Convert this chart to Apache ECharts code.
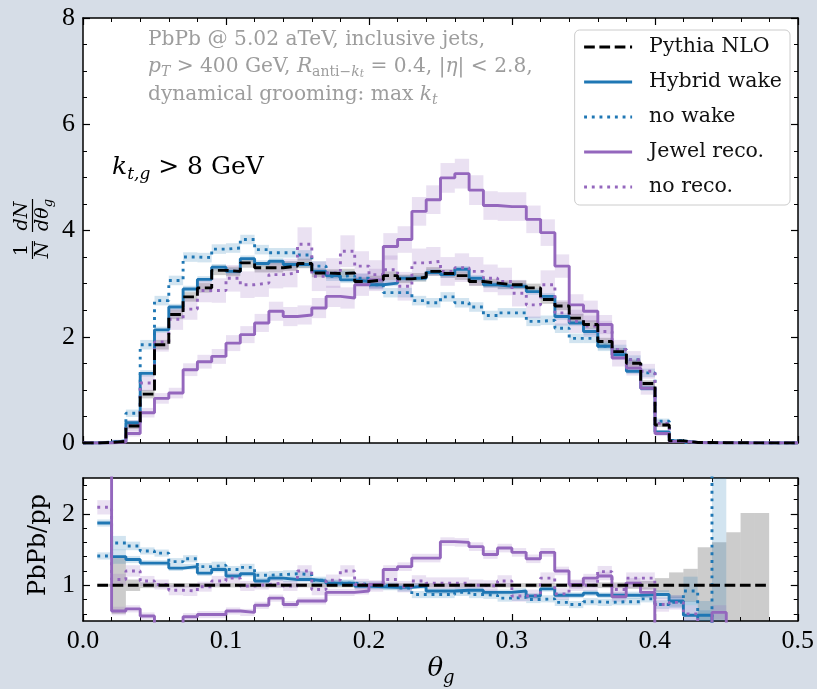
<!DOCTYPE html>
<html><head><meta charset="utf-8">
<script src="https://cdn.jsdelivr.net/npm/echarts@6/dist/echarts.min.js"></script>
<style>html,body{margin:0;padding:0;background:#d6dde7;}#c{width:817px;height:689px;}</style>
</head><body><div id="c"></div><script>
// ---------- data ----------
const binEdges = [0,0.01,0.02,0.03,0.04,0.05,0.06,0.07,0.08,0.09,0.10,0.11,0.12,0.13,0.14,0.15,0.16,0.17,0.18,0.19,0.20,
  0.21,0.22,0.23,0.24,0.25,0.26,0.27,0.28,0.29,0.30,0.31,0.32,0.33,0.34,0.35,0.36,0.37,0.38,0.39,0.40,
  0.41,0.42,0.43,0.44,0.45,0.46,0.47,0.48,0.49,0.50];
const seriesNames = ['Pythia NLO','Hybrid wake','no wake','Jewel reco.','no reco.'];
const xTickLabels = ['0.0','0.1','0.2','0.3','0.4','0.5'];
const yTickLabelsTop = ['0','2','4','6','8'];
const yTickLabelsRatio = [1,2];

// top panel: 1/N dN/dtheta_g per bin of 0.01
const pythiaNLO = [0,0.01,0.03,0.32,0.92,1.85,2.42,2.75,2.92,3.25, 3.23,3.39,3.30,3.30,3.33,3.38,3.20,3.19,3.20,3.04,
  3.07,3.15,3.09,3.12,3.23,3.19,3.15,3.04,3.01,2.98, 2.98,2.92,2.70,2.58,2.35,2.23,1.91,1.72,1.50,1.12,
  0.34,0.04,0.01,0.01,0.005,0.005,0.003,0.002,0,0];
const hybridWake = [0,0.01,0.03,0.38,1.31,2.13,2.56,2.90,3.08,3.31, 3.23,3.47,3.38,3.42,3.36,3.36,3.23,3.15,3.07,3.04,
  2.98,3.01,3.10,3.10,3.21,3.17,3.27,3.10,2.98,2.95, 2.95,2.85,2.76,2.38,2.26,2.10,1.82,1.66,1.35,1.03,
  0.21,0.04,0.01,0.005,0.003,0.003,0.002,0,0,0];
const hybridNoWake = [0,0.02,0.04,0.56,1.85,2.68,3.06,3.50,3.49,3.65, 3.67,3.83,3.64,3.58,3.58,3.54,3.33,3.14,3.15,3.10,
  2.98,2.83,2.83,2.68,2.64,2.75,2.64,2.56,2.40,2.45, 2.45,2.29,2.31,2.16,1.97,1.97,1.82,1.76,1.57,1.32,
  0.41,0.05,0.01,0.005,0.01,0.003,0.002,0,0,0];
const jewelReco = [0,0,0.02,0.18,0.57,0.84,0.94,1.38,1.53,1.63, 1.88,2.04,2.26,2.48,2.38,2.41,2.54,2.76,2.73,2.98,
  3.07,3.70,3.83,4.36,4.58,4.99,5.07,4.76,4.47,4.45, 4.45,4.21,3.96,3.33,2.60,2.48,2.23,1.60,1.41,1.03,
  0.18,0.03,0.01,0.005,0.003,0.002,0,0,0,0];
const jewelNoReco = [0,0.01,0.03,0.33,1.13,1.90,2.33,2.52,2.87,2.87, 3.10,2.98,3.01,3.17,3.20,3.74,3.14,3.20,3.61,3.33,
  3.17,3.26,2.95,3.39,3.42,3.23,3.30,3.23,3.10,3.04, 2.82,2.60,2.98,2.45,2.29,2.20,2.10,1.76,1.57,1.35,
  0.37,0.03,0.01,0.005,0.003,0.002,0,0,0,0];
// uncertainties (half widths) top
const pythiaErr = [0,0.01,0.02,0.06,0.08,0.09,0.09,0.09,0.09,0.09, 0.09,0.09,0.09,0.09,0.09,0.09,0.08,0.08,0.08,0.08,
  0.08,0.08,0.08,0.08,0.08,0.08,0.08,0.08,0.08,0.08, 0.08,0.08,0.08,0.08,0.08,0.08,0.07,0.07,0.07,0.06,
  0.04,0.02,0.01,0.01,0.01,0.01,0.01,0.01,0,0];
const hybridWakeErr = [0,0.01,0.02,0.05,0.06,0.06,0.06,0.06,0.06,0.06, 0.06,0.06,0.06,0.06,0.06,0.06,0.06,0.06,0.06,0.06,
  0.06,0.06,0.06,0.06,0.06,0.06,0.06,0.06,0.06,0.06, 0.06,0.06,0.06,0.06,0.06,0.06,0.06,0.06,0.05,0.05,
  0.03,0.01,0.01,0.01,0.01,0.01,0.01,0,0,0];
const hybridNoWakeErr = [0,0.01,0.02,0.07,0.09,0.09,0.09,0.09,0.09,0.09, 0.09,0.09,0.09,0.09,0.09,0.09,0.09,0.09,0.09,0.09,
  0.09,0.09,0.09,0.09,0.09,0.09,0.09,0.09,0.09,0.09, 0.09,0.09,0.09,0.09,0.09,0.09,0.09,0.09,0.08,0.08,
  0.05,0.02,0.01,0.01,0.01,0.01,0.01,0,0,0];
const jewelRecoErr = [0,0,0.02,0.06,0.09,0.1,0.1,0.12,0.13,0.14, 0.15,0.16,0.17,0.18,0.18,0.18,0.19,0.2,0.2,0.21,
  0.21,0.25,0.25,0.27,0.27,0.28,0.28,0.28,0.27,0.27, 0.27,0.26,0.25,0.22,0.2,0.2,0.18,0.16,0.14,0.12,
  0.05,0.02,0.01,0.01,0.01,0.01,0,0,0,0];
const jewelNoRecoErr = [0,0.01,0.03,0.1,0.15,0.18,0.2,0.2,0.22,0.23, 0.25,0.25,0.26,0.26,0.27,0.32,0.28,0.28,0.3,0.28,
  0.27,0.27,0.27,0.27,0.27,0.27,0.27,0.27,0.26,0.26, 0.25,0.25,0.27,0.24,0.22,0.2,0.2,0.18,0.16,0.14,
  0.06,0.02,0.01,0.01,0.01,0.01,0,0,0,0];

// bottom panel: PbPb/pp ratios (null = not drawn)
const ratioPythia = [null,1,1,1,1,1,1,1,1,1, 1,1,1,1,1,1,1,1,1,1, 1,1,1,1,1,1,1,1,1,1, 1,1,1,1,1,1,1,1,1,1,
  1,1,1,1,1,1,1,1,null,null];
const ratioPythiaErr = [null,0.02,0.4,0.08,0.04,0.03,0.03,0.03,0.03,0.03, 0.03,0.03,0.03,0.03,0.03,0.03,0.03,0.03,0.03,0.03,
  0.03,0.03,0.03,0.03,0.03,0.03,0.03,0.03,0.03,0.03, 0.03,0.03,0.03,0.03,0.03,0.03,0.04,0.04,0.05,0.06,
  0.1,0.18,0.23,0.53,0.6,0.74,1.01,1.01,null,null];
const ratioHybridWake = [null,1.87,1.40,1.36,1.31,1.31,1.24,1.26,1.17,1.22, 1.13,1.16,1.06,1.10,1.08,1.08,1.06,1.03,1.03,0.99,
  0.98,0.97,0.97,0.99,0.92,0.92,0.93,0.93,0.90,0.90, 0.92,0.85,0.95,0.86,0.86,0.89,0.86,0.86,0.86,0.87,
  0.87,0.78,0.58,0.58,0.3,null,null,null,null,null];
const ratioHybridWakeErr = [null,0.05,0.1,0.05,0.04,0.04,0.04,0.04,0.04,0.04, 0.04,0.04,0.04,0.04,0.04,0.04,0.04,0.04,0.04,0.04,
  0.04,0.04,0.04,0.04,0.04,0.04,0.04,0.04,0.04,0.04, 0.04,0.04,0.04,0.04,0.04,0.04,0.04,0.04,0.05,0.05,
  0.06,0.08,0.2,0.2,0.2,null,null,null,null,null];
const ratioHybridNoWake = [null,1.41,1.59,1.55,1.48,1.45,1.33,1.37,1.26,1.28, 1.22,1.25,1.14,1.15,1.16,1.15,1.07,1.03,1.03,1.01,
  1.00,0.99,0.96,0.87,0.87,0.87,0.90,0.87,0.86,0.82, 0.83,0.80,0.81,0.76,0.73,0.77,0.76,0.77,0.77,0.81,
  0.73,0.76,0.92,0.45,4.0,null,null,null,null,null];
const ratioHybridNoWakeErr = [null,0.05,0.1,0.06,0.05,0.05,0.05,0.05,0.05,0.05, 0.05,0.05,0.05,0.05,0.05,0.05,0.05,0.05,0.05,0.05,
  0.05,0.05,0.05,0.05,0.05,0.05,0.05,0.05,0.05,0.05, 0.05,0.05,0.05,0.05,0.05,0.05,0.05,0.05,0.05,0.05,
  0.06,0.08,0.2,0.2,3.5,null,null,null,null,null];
const ratioJewelReco = [null,3.5,0.64,0.67,0.57,0.45,0.45,0.56,0.59,0.59, 0.64,0.62,0.72,0.82,0.73,0.78,0.78,0.90,0.90,0.92,
  1.01,1.22,1.26,1.38,1.38,1.61,1.60,1.54,1.43,1.52, 1.46,1.37,1.46,1.20,1.01,1.10,1.13,0.84,1.03,0.90,
  0.3,0.3,0.3,0.3,0.62,0.3,null,null,null,null];
const ratioJewelRecoErr = [null,0.5,0.06,0.05,0.05,0.05,0.05,0.05,0.05,0.05, 0.05,0.05,0.05,0.05,0.05,0.05,0.05,0.05,0.05,0.05,
  0.05,0.06,0.06,0.06,0.06,0.06,0.06,0.06,0.06,0.06, 0.06,0.06,0.06,0.06,0.06,0.06,0.06,0.07,0.07,0.07,
  0.1,0.1,0.1,0.1,0.1,0.1,null,null,null,null];
const ratioJewelNoReco = [null,2.09,1.08,1.20,1.06,1.01,0.93,0.92,0.98,1.06, 1.10,0.99,1.01,1.03,0.99,1.20,0.94,1.07,1.20,1.01,
  0.99,1.08,0.98,1.06,1.03,1.03,1.03,1.00,0.99,1.06, 0.85,0.86,1.10,0.88,1.00,1.00,1.19,0.94,1.10,1.10,
  0.73,0.76,0.60,0.3,null,null,null,null,null,null];
const ratioJewelNoRecoErr = [null,0.1,0.08,0.08,0.07,0.07,0.07,0.07,0.07,0.07, 0.07,0.07,0.07,0.07,0.07,0.08,0.08,0.08,0.08,0.08,
  0.08,0.08,0.08,0.08,0.08,0.08,0.08,0.08,0.08,0.08, 0.08,0.08,0.08,0.08,0.08,0.08,0.08,0.08,0.08,0.08,
  0.1,0.1,0.12,0.12,null,null,null,null,null,null];

// ---------- styling ----------
const FONT = 'Liberation Serif';
const TFONT = 'DejaVu Serif';
const BLUE = '#1f77b4', PURPLE = '#9467bd', BLACK = '#000000';
const LW = 2.9;
const DASHED = [10.7, 4.6], DOTTED = [2.9, 4.8];
const GRAY_TXT = '#9d9d9d';

function stepData(vals) {
  const pts = [];
  for (let i = 0; i < vals.length; i++) {
    const v = vals[i];
    if (v == null) continue;
    pts.push([binEdges[i], v]);
    if (i === vals.length - 1 || vals[i + 1] == null) {
      pts.push([binEdges[i + 1], v]);
      pts.push([binEdges[i + 1], '-']);
    }
  }
  return pts;
}
function lineSeries(name, vals, color, type, xi, yi, z) {
  return { type: 'line', name, xAxisIndex: xi, yAxisIndex: yi, data: stepData(vals), step: 'end',
    symbol: 'none', showSymbol: false, clip: true, silent: true, z: z || 3, connectNulls: false,
    lineStyle: { color, width: LW, type, cap: 'butt' }, itemStyle: { color } };
}
function bandSeries(vals, errs, color, xi, yi) {
  const data = [];
  vals.forEach((v, i) => {
    if (v == null || errs[i] == null) return;
    data.push([binEdges[i], binEdges[i + 1], v - errs[i], v + errs[i]]);
  });
  return { type: 'custom', xAxisIndex: xi, yAxisIndex: yi, silent: true, clip: true, z: 1,
    encode: { x: [0, 1], y: [2, 3] }, data,
    renderItem(params, api) {
      const p0 = api.coord([api.value(0), api.value(3)]);
      const p1 = api.coord([api.value(1), api.value(2)]);
      const cs = params.coordSys;
      const r = echarts.graphic.clipRectByRect(
        { x: p0[0], y: p0[1], width: p1[0] - p0[0], height: p1[1] - p0[1] },
        { x: cs.x, y: cs.y, width: cs.width, height: cs.height });
      return r && { type: 'rect', shape: r, style: { fill: color } };
    } };
}
const BAND_GRAY = 'rgba(0,0,0,0.2)', BAND_BLUE = 'rgba(31,119,180,0.2)', BAND_PURPLE = 'rgba(148,103,189,0.2)';

function xAxisDef(gridIndex, position, labels) {
  return { type: 'value', gridIndex, position, min: 0, max: 0.5, interval: 0.1,
    axisLine: { show: true, onZero: false, lineStyle: { color: '#000', width: 1.5 } },
    axisTick: { show: true, inside: true, length: 7, lineStyle: { color: '#000', width: 1.2 } },
    minorTick: { show: true, splitNumber: 5, length: 4, lineStyle: { color: '#000', width: 1 } },
    splitLine: { show: false }, minorSplitLine: { show: false },
    axisLabel: { show: labels, formatter: v => xTickLabels[Math.round(v * 10)], fontFamily: FONT, fontSize: 26, color: '#000', margin: 7 } };
}
function yTopDef(position, labels) {
  return { type: 'value', gridIndex: 0, position, min: 0, max: 8, interval: 2,
    axisLine: { show: true, onZero: false, lineStyle: { color: '#000', width: 1.5 } },
    axisTick: { show: true, inside: true, length: 7, lineStyle: { color: '#000', width: 1.2 } },
    minorTick: { show: true, splitNumber: 4, length: 4, lineStyle: { color: '#000', width: 1 } },
    splitLine: { show: false }, minorSplitLine: { show: false },
    axisLabel: { show: labels, formatter: v => yTickLabelsTop[Math.round(v / 2)], fontFamily: FONT, fontSize: 26, color: '#000', margin: 8 } };
}
function yRatioDef(position, labels, major) {
  const vals = major ? yTickLabelsRatio : [0.6, 0.8, 1.2, 1.4, 1.6, 1.8, 2.2, 2.4];
  return { type: 'value', gridIndex: 1, position, min: 0.5, max: 2.5, offset: 0,
    axisLine: { show: major, onZero: false, lineStyle: { color: '#000', width: 1.5 } },
    axisTick: { show: true, inside: true, length: major ? 7 : 4, customValues: vals, lineStyle: { color: '#000', width: major ? 1.2 : 1 } },
    splitLine: { show: false },
    axisLabel: { show: labels, customValues: yTickLabelsRatio, fontFamily: FONT, fontSize: 26, color: '#000', margin: 8 } };
}

const series = [
  bandSeries(pythiaNLO, pythiaErr, BAND_GRAY, 0, 0),
  bandSeries(hybridWake, hybridWakeErr, BAND_BLUE, 0, 0),
  bandSeries(hybridNoWake, hybridNoWakeErr, BAND_BLUE, 0, 0),
  bandSeries(jewelReco, jewelRecoErr, BAND_PURPLE, 0, 0),
  bandSeries(jewelNoReco, jewelNoRecoErr, BAND_PURPLE, 0, 0),
  lineSeries(seriesNames[1], hybridWake, BLUE, 'solid', 0, 0, 3),
  lineSeries(seriesNames[2], hybridNoWake, BLUE, DOTTED, 0, 0, 3),
  lineSeries(seriesNames[3], jewelReco, PURPLE, 'solid', 0, 0, 3),
  lineSeries(seriesNames[4], jewelNoReco, PURPLE, DOTTED, 0, 0, 3),
  lineSeries(seriesNames[0], pythiaNLO, BLACK, DASHED, 0, 0, 4),
  bandSeries(ratioPythia, ratioPythiaErr, BAND_GRAY, 2, 2),
  bandSeries(ratioHybridWake, ratioHybridWakeErr, BAND_BLUE, 2, 2),
  bandSeries(ratioHybridNoWake, ratioHybridNoWakeErr, BAND_BLUE, 2, 2),
  bandSeries(ratioJewelReco, ratioJewelRecoErr, BAND_PURPLE, 2, 2),
  bandSeries(ratioJewelNoReco, ratioJewelNoRecoErr, BAND_PURPLE, 2, 2),
  lineSeries('r1', ratioHybridWake, BLUE, 'solid', 2, 2, 3),
  lineSeries('r2', ratioHybridNoWake, BLUE, DOTTED, 2, 2, 3),
  lineSeries('r3', ratioJewelReco, PURPLE, 'solid', 2, 2, 3),
  lineSeries('r4', ratioJewelNoReco, PURPLE, DOTTED, 2, 2, 3),
  lineSeries('r0', ratioPythia, BLACK, DASHED, 2, 2, 4)
];

const sub = (fs, col, ital, fam) => ({ fontFamily: fam || TFONT, fontSize: fs, fill: col, fontStyle: ital ? 'italic' : 'normal', verticalAlign: 'bottom' });
const main = (fs, col, ital, pad, fam) => ({ fontFamily: fam || TFONT, fontSize: fs, fill: col, fontStyle: ital ? 'italic' : 'normal', verticalAlign: 'bottom', padding: [0, 0, pad, 0] });

const AF = 20.2;
const annoRich = { r: main(AF, GRAY_TXT, false, 3), i: main(AF, GRAY_TXT, true, 3), s: sub(14, GRAY_TXT, false), si: sub(14, GRAY_TXT, true), ss: sub(10.5, GRAY_TXT, true) };

const graphics = [
  // y label top: 1/N dN/dtheta_g
  { type: 'group', x: 32.5, y: 231, rotation: Math.PI / 2, silent: true, children: [
    { type: 'text', x: -19, y: -1, style: { text: '1', font: '19px "DejaVu Serif"', fill: '#000', align: 'center', verticalAlign: 'bottom' } },
    { type: 'line', shape: { x1: -28, y1: 0, x2: -10, y2: 0 }, style: { stroke: '#000', lineWidth: 1.2 } },
    { type: 'text', x: -19, y: 1, style: { text: 'N', font: 'italic 19px "DejaVu Serif"', fill: '#000', align: 'center', verticalAlign: 'top' } },
    { type: 'text', x: 15, y: -1, style: { text: 'dN', font: 'italic 19px "DejaVu Serif"', fill: '#000', align: 'center', verticalAlign: 'bottom' } },
    { type: 'line', shape: { x1: -1, y1: 0, x2: 32, y2: 0 }, style: { stroke: '#000', lineWidth: 1.2 } },
    { type: 'text', x: 16, y: 1, style: { text: '{i|dθ}{s|g}', align: 'center', verticalAlign: 'top',
      rich: { i: main(19, '#000', true, 3), s: sub(13, '#000', true) } } }
  ] },
  // y label bottom
  { type: 'text', x: 39, y: 545, rotation: Math.PI / 2, silent: true,
    style: { text: 'PbPb/pp', font: '24px "DejaVu Serif"', fill: '#000', align: 'center', verticalAlign: 'middle' } },
  // x label
  { type: 'text', x: 441, y: 672, silent: true,
    style: { text: '{i|θ}{s|g}', align: 'center', verticalAlign: 'middle', rich: { i: main(26, '#000', true, 5), s: sub(18, '#000', true) } } },
  // annotation
  { type: 'text', x: 148, y: 41, silent: true,
    style: { text: '{r|PbPb @ 5.02 aTeV, inclusive jets,}', align: 'left', verticalAlign: 'middle', rich: annoRich } },
  { type: 'text', x: 148, y: 68, silent: true,
    style: { text: '{i|p}{si|T}{r| > 400 GeV, }{i|R}{s|anti−}{si|k}{ss|t}{r| = 0.4, |}{i|η}{r|| < 2.8,}', align: 'left', verticalAlign: 'middle', rich: annoRich } },
  { type: 'text', x: 148, y: 96, silent: true,
    style: { text: '{r|dynamical grooming: max }{i|k}{si|t}', align: 'left', verticalAlign: 'middle', rich: annoRich } },
  { type: 'text', x: 112, y: 169, silent: true,
    style: { text: '{i|k}{si|t,g}{r| > 8 GeV}', align: 'left', verticalAlign: 'middle',
      rich: { r: main(25, '#000', false, 4), i: main(25, '#000', true, 4), si: sub(17, '#000', true) } } }
];

const option = {
  backgroundColor: '#d6dde7',
  animation: false,
  grid: [
    { left: 83, top: 18, width: 715, height: 425, show: true, backgroundColor: '#ffffff', borderWidth: 0 },
    { left: 83, top: 478, width: 715, height: 143, show: true, backgroundColor: '#ffffff', borderWidth: 0 }
  ],
  xAxis: [xAxisDef(0, 'bottom', false), xAxisDef(0, 'top', false), xAxisDef(1, 'bottom', true), xAxisDef(1, 'top', false)],
  yAxis: [yTopDef('left', true), yTopDef('right', false),
    yRatioDef('left', true, true), yRatioDef('left', false, false), yRatioDef('right', false, true), yRatioDef('right', false, false)],
  legend: {
    data: seriesNames, orient: 'vertical', right: 27, top: 30, selectedMode: false,
    backgroundColor: '#ffffff', borderColor: '#cccccc', borderWidth: 1, borderRadius: 5,
    padding: [6, 8, 7, 8], itemGap: 13, itemWidth: 48, itemHeight: 14,
    lineStyle: { width: LW },
    itemStyle: { opacity: 0, borderWidth: 0 },
    textStyle: { fontFamily: TFONT, fontSize: 20.5, color: '#111', lineHeight: 22, width: 132, padding: [0, 0, 0, 12] }
  },
  graphic: { elements: graphics },
  series
};
const chart = echarts.init(document.getElementById('c'), null, { renderer: 'canvas' });
chart.setOption(option);
</script></body></html>
